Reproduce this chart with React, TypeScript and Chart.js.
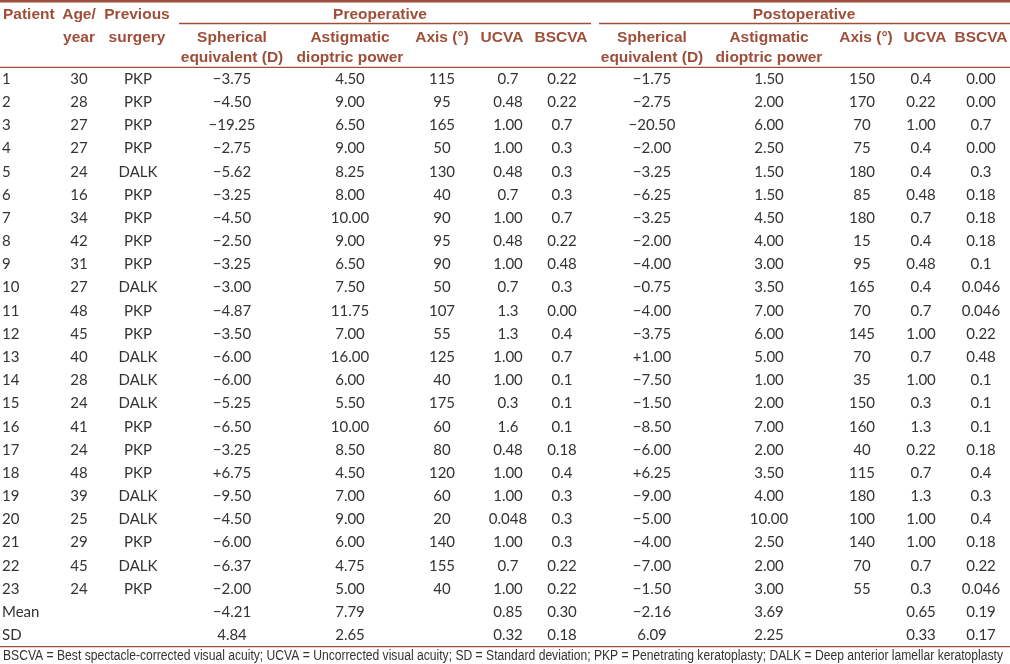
import { useEffect, useRef } from 'react';
import { Chart, registerables } from 'chart.js';

Chart.register(...registerables);

// ---------- DATA ----------
const ROW_LABELS = ['1','2','3','4','5','6','7','8','9','10','11','12','13','14','15','16','17','18','19','20','21','22','23','Mean','SD'];
const AGE = ['30','28','27','27','24','16','34','42','31','27','48','45','40','28','24','41','24','48','39','25','29','45','24','',''];
const SURGERY = ['PKP','PKP','PKP','PKP','DALK','PKP','PKP','PKP','PKP','DALK','PKP','PKP','DALK','DALK','DALK','PKP','PKP','PKP','DALK','DALK','PKP','DALK','PKP','',''];
const PRE_SE = ['−3.75','−4.50','−19.25','−2.75','−5.62','−3.25','−4.50','−2.50','−3.25','−3.00','−4.87','−3.50','−6.00','−6.00','−5.25','−6.50','−3.25','+6.75','−9.50','−4.50','−6.00','−6.37','−2.00','−4.21','4.84'];
const PRE_AST = ['4.50','9.00','6.50','9.00','8.25','8.00','10.00','9.00','6.50','7.50','11.75','7.00','16.00','6.00','5.50','10.00','8.50','4.50','7.00','9.00','6.00','4.75','5.00','7.79','2.65'];
const PRE_AXIS = ['115','95','165','50','130','40','90','95','90','50','107','55','125','40','175','60','80','120','60','20','140','155','40','',''];
const PRE_UCVA = ['0.7','0.48','1.00','1.00','0.48','0.7','1.00','0.48','1.00','0.7','1.3','1.3','1.00','1.00','0.3','1.6','0.48','1.00','1.00','0.048','1.00','0.7','1.00','0.85','0.32'];
const PRE_BSCVA = ['0.22','0.22','0.7','0.3','0.3','0.3','0.7','0.22','0.48','0.3','0.00','0.4','0.7','0.1','0.1','0.1','0.18','0.4','0.3','0.3','0.3','0.22','0.22','0.30','0.18'];
const POST_SE = ['−1.75','−2.75','−20.50','−2.00','−3.25','−6.25','−3.25','−2.00','−4.00','−0.75','−4.00','−3.75','+1.00','−7.50','−1.50','−8.50','−6.00','+6.25','−9.00','−5.00','−4.00','−7.00','−1.50','−2.16','6.09'];
const POST_AST = ['1.50','2.00','6.00','2.50','1.50','1.50','4.50','4.00','3.00','3.50','7.00','6.00','5.00','1.00','2.00','7.00','2.00','3.50','4.00','10.00','2.50','2.00','3.00','3.69','2.25'];
const POST_AXIS = ['150','170','70','75','180','85','180','15','95','165','70','145','70','35','150','160','40','115','180','100','140','70','55','',''];
const POST_UCVA = ['0.4','0.22','1.00','0.4','0.4','0.48','0.7','0.4','0.48','0.4','0.7','1.00','0.7','1.00','0.3','1.3','0.22','0.7','1.3','1.00','1.00','0.7','0.3','0.65','0.33'];
const POST_BSCVA = ['0.00','0.00','0.7','0.00','0.3','0.18','0.18','0.18','0.1','0.046','0.046','0.22','0.48','0.1','0.1','0.1','0.18','0.4','0.3','0.4','0.18','0.22','0.046','0.19','0.17'];

const GROUP_TITLES = ['Preoperative', 'Postoperative'];
const FOOTNOTE = 'BSCVA = Best spectacle-corrected visual acuity; UCVA = Uncorrected visual acuity; SD = Standard deviation; PKP = Penetrating keratoplasty; DALK = Deep anterior lamellar keratoplasty';

// ---------- LAYOUT / STYLE ----------
const W = 1010;
const H = 664;
const HEAD_COLOR = '#9e4f39';
const BODY_COLOR = '#333333';
const BODY_FONT = '15px Lato';
const HEAD_FONT = 'bold 15.5px "Liberation Sans"';

const BODY_COLUMNS = [
  { values: AGE, x: 79 },
  { values: SURGERY, x: 138 },
  { values: PRE_SE, x: 232 },
  { values: PRE_AST, x: 350 },
  { values: PRE_AXIS, x: 442 },
  { values: PRE_UCVA, x: 508 },
  { values: PRE_BSCVA, x: 562 },
  { values: POST_SE, x: 652 },
  { values: POST_AST, x: 769 },
  { values: POST_AXIS, x: 862 },
  { values: POST_UCVA, x: 921 },
  { values: POST_BSCVA, x: 981 },
];

// header cells: [text, x, baselineY, align]
const HEADER_CELLS: [string, number, number, CanvasTextAlign][] = [
  ['Patient', 3, 19, 'left'],
  ['Age/', 79, 19, 'center'],
  ['year', 79, 42, 'center'],
  ['Previous', 137, 19, 'center'],
  ['surgery', 137, 42, 'center'],
  ['Spherical', 232, 42, 'center'],
  ['equivalent (D)', 232, 62, 'center'],
  ['Astigmatic', 350, 42, 'center'],
  ['dioptric power', 350, 62, 'center'],
  ['Axis (°)', 442, 42, 'center'],
  ['UCVA', 502, 42, 'center'],
  ['BSCVA', 561, 42, 'center'],
  ['Spherical', 652, 42, 'center'],
  ['equivalent (D)', 652, 62, 'center'],
  ['Astigmatic', 769, 42, 'center'],
  ['dioptric power', 769, 62, 'center'],
  ['Axis (°)', 866, 42, 'center'],
  ['UCVA', 925, 42, 'center'],
  ['BSCVA', 981, 42, 'center'],
];
const GROUP_LAYOUT = [
  { x: 380, x0: 179, x1: 591 },
  { x: 804, x0: 599, x1: 1010 },
];

const tablePlugin = {
  id: 'tablePlugin',
  afterDraw(chart: any) {
    const ctx: CanvasRenderingContext2D = chart.ctx;
    const xs = chart.scales.x;
    const ys = chart.scales.y;
    const area = chart.chartArea;
    ctx.save();

    // rules
    ctx.strokeStyle = HEAD_COLOR;
    ctx.lineWidth = 2.6;
    ctx.beginPath();
    ctx.moveTo(0, 1.3);
    ctx.lineTo(W, 1.3);
    ctx.stroke();
    ctx.lineWidth = 1.3;
    GROUP_LAYOUT.forEach((g) => {
      ctx.beginPath();
      ctx.moveTo(xs.getPixelForValue(g.x0), 23.5);
      ctx.lineTo(xs.getPixelForValue(g.x1), 23.5);
      ctx.stroke();
    });
    [area.top, area.bottom].forEach((y: number) => {
      ctx.beginPath();
      ctx.moveTo(0, y);
      ctx.lineTo(W, y);
      ctx.stroke();
    });

    // header
    ctx.fillStyle = HEAD_COLOR;
    ctx.font = HEAD_FONT;
    ctx.textBaseline = 'alphabetic';
    GROUP_TITLES.forEach((t, i) => {
      ctx.textAlign = 'center';
      ctx.fillText(t, xs.getPixelForValue(GROUP_LAYOUT[i].x), 19);
    });
    HEADER_CELLS.forEach(([t, x, y, a]) => {
      ctx.textAlign = a;
      ctx.fillText(t, xs.getPixelForValue(x), y);
    });

    // body
    ctx.fillStyle = BODY_COLOR;
    ctx.font = BODY_FONT;
    ROW_LABELS.forEach((label, i) => {
      const y = ys.getPixelForValue(i) + 5;
      ctx.textAlign = 'left';
      ctx.fillText(label, 2, y);
      ctx.textAlign = 'center';
      BODY_COLUMNS.forEach((c) => {
        const v = c.values[i];
        if (v) ctx.fillText(v, xs.getPixelForValue(c.x), y);
      });
    });

    // footnote (fit to the full width)
    ctx.font = '14px "Liberation Sans Narrow", "Liberation Sans"';
    ctx.textAlign = 'left';
    const w = ctx.measureText(FOOTNOTE).width;
    const target = 1000;
    ctx.translate(3, 660);
    ctx.scale(target / w, 1);
    ctx.fillText(FOOTNOTE, 0, 0);
    ctx.restore();
  },
};

export default function App() {
  const ref = useRef<HTMLCanvasElement | null>(null);
  useEffect(() => {
    if (!ref.current) return;
    const chart = new Chart(ref.current, {
      type: 'scatter',
      data: { datasets: [{ data: [] }] },
      options: {
        responsive: false,
        animation: false,
        devicePixelRatio: 1,
        layout: { padding: { top: 67.4, bottom: H - 646.6, left: 0, right: 0 } },
        plugins: { legend: { display: false }, tooltip: { enabled: false } },
        scales: {
          x: { type: 'linear', min: 0, max: W, display: false },
          y: { type: 'category', labels: ROW_LABELS, offset: true, display: false },
        },
      },
      plugins: [tablePlugin],
    });
    return () => chart.destroy();
  }, []);
  return (
    <div style={{ position: 'absolute', left: 0, top: 0, width: W, height: H, background: '#fff' }}>
      <canvas ref={ref} width={W} height={H} />
    </div>
  );
}
